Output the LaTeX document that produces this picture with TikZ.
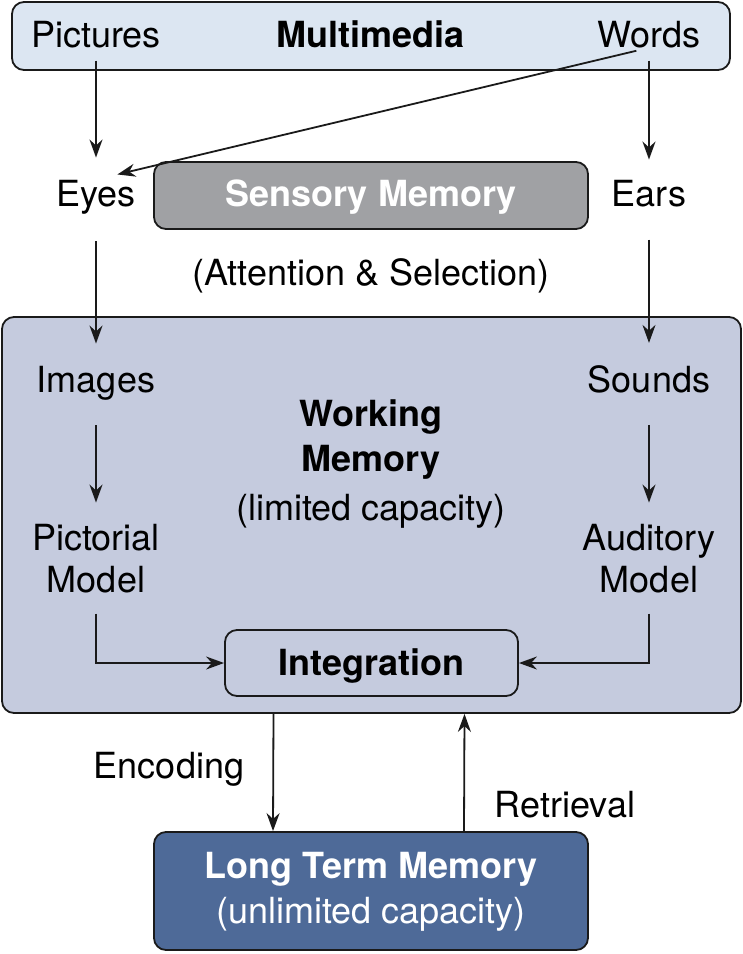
\documentclass[tikz,border=0pt]{standalone}
\usepackage{fontspec}
\setmainfont{TeX Gyre Heros}
\usetikzlibrary{positioning,arrows.meta}
\definecolor{mediaFill}{HTML}{DCE6F2}
\definecolor{sensoryFill}{HTML}{A0A1A4}
\definecolor{workingFill}{HTML}{C5CBDE}
\definecolor{longFill}{HTML}{4E6A98}
\definecolor{edgeCol}{HTML}{1A1A1A}
\tikzset{
  box/.style={rectangle, rounded corners=12pt, draw=edgeCol, line width=1.8pt, inner sep=0pt},
  lbl/.style={inner sep=0pt, anchor=base, align=center},
  flow/.style={-{Stealth[length=18pt,width=13pt]}, line width=1.8pt, draw=edgeCol}
}
\begin{document}
\begin{tikzpicture}[x=1pt, y=-1pt, font=\fontsize{36}{43}\selectfont]
      \useasboundingbox (0,0) rectangle (743,954);

      % boxes
      \node[box, fill=mediaFill, minimum width=718pt, minimum height=68pt] (media) at (371,36) {};
      \node[box, fill=sensoryFill, minimum width=434pt, minimum height=67pt] (sensory) at (371,195.5) {};
      \node[box, fill=workingFill, minimum width=739pt, minimum height=396pt] (working) at (371.5,515) {};
      \node[box, minimum width=293pt, minimum height=66pt] (integ) at (371.5,663) {};
      \node[box, fill=longFill, minimum width=434pt, minimum height=118pt] (ltm) at (371,891) {};

      % texts (base = baseline of the last line)
      \node[lbl] (pictures) at (96,47) {Pictures};
      \node[lbl] (multimedia) at (371,47) {\textbf{Multimedia}};
      \node[lbl] (words) at (649,47) {Words};
      \node[lbl] (eyes) at (96,206) {Eyes};
      \node[lbl, text=white] (sensoryTxt) at (371,206) {\textbf{Sensory Memory}};
      \node[lbl] (ears) at (649,206) {Ears};
      \node[lbl] (attention) at (371,285) {(Attention \& Selection)};
      \node[lbl] (images) at (96,392) {Images};
      \node[lbl] (sounds) at (649,392) {Sounds};
      \node[lbl, font=\fontsize{36}{45}\selectfont] (workingTxt) at (371,520)
        {\textbf{Working}\\\textbf{Memory}\\[4pt](limited capacity)};
      \node[lbl, font=\fontsize{36}{42}\selectfont] (pictorial) at (96,592) {Pictorial\\Model};
      \node[lbl, font=\fontsize{36}{42}\selectfont] (auditory) at (649,592) {Auditory\\Model};
      \node[lbl] (integTxt) at (371.5,675) {\textbf{Integration}};
      \node[lbl] (encoding) at (169,778) {Encoding};
      \node[lbl] (retrieval) at (565,817) {Retrieval};
      \node[lbl, text=white, font=\fontsize{36}{45}\selectfont] (ltmTxt) at (371,923)
        {\textbf{Long Term Memory}\\(unlimited capacity)};

      % connectors
      \draw[flow, shorten <=13pt, shorten >=22pt] (pictures.south) -- (eyes.north);
      \draw[flow, shorten <=13pt, shorten >=22pt] (words.south) -- (eyes.north);
      \draw[flow, shorten <=13pt, shorten >=20pt] (words.south) -- (ears.north);
      \draw[flow, shorten <=27pt, shorten >=22pt] (eyes.south) -- (images.north);
      \draw[flow, shorten <=33pt, shorten >=22pt] (ears.south) -- (sounds.north);
      \draw[flow, shorten <=25pt, shorten >=21pt] (images.south) -- (pictorial.north);
      \draw[flow, shorten <=32pt, shorten >=21pt] (sounds.south) -- (auditory.north);
      \draw[flow, shorten <=21pt] (pictorial.south) |- (integ.west);
      \draw[flow, shorten <=21pt] (auditory.south) |- (integ.east);
      \draw[flow] ([xshift=-98pt]working.south) -- ([xshift=-98pt]ltm.north);
      \draw[flow] ([xshift=93pt]ltm.north) -- ([xshift=93pt]working.south);

    \end{tikzpicture}
\end{document}
